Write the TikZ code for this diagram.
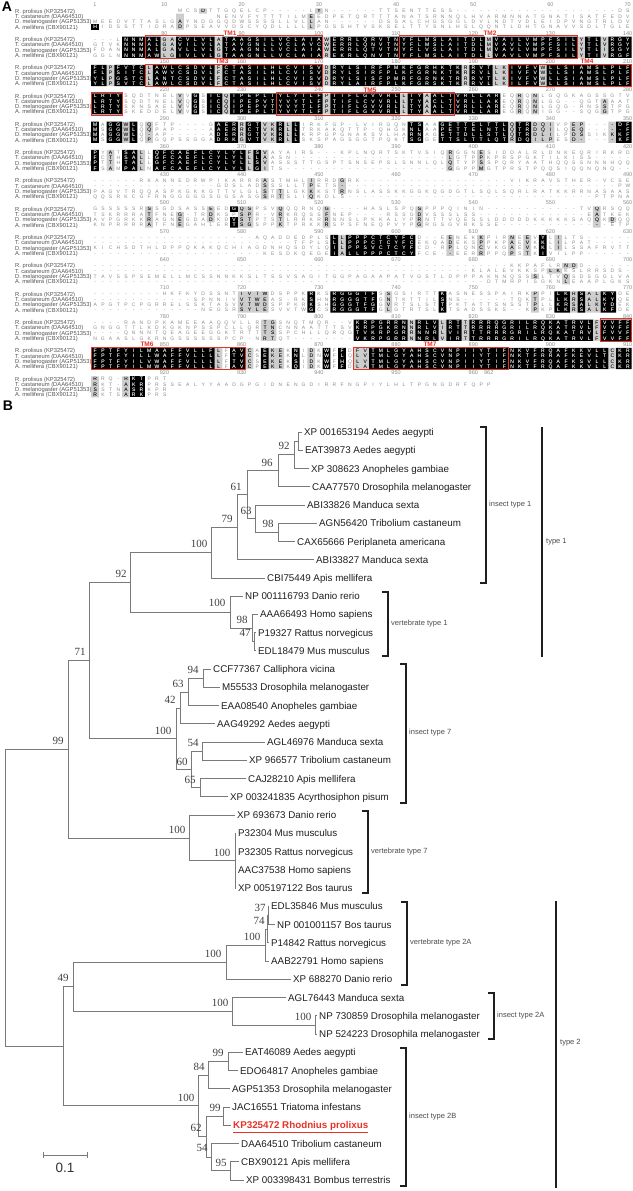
\documentclass[tikz,border=0pt]{standalone}
\usepackage{fontspec}
\setmainfont{Liberation Sans}
\newfontfamily\bsfont{Liberation Serif}
\usetikzlibrary{calc}

\definecolor{tmred}{HTML}{E53328}
\definecolor{seqgray}{HTML}{8C8C8C}
\definecolor{cellgray}{HTML}{CDCDCD}
\definecolor{treegray}{HTML}{7A7A7A}
\definecolor{labgray}{HTML}{555555}

\def\seqchars#1{\ifx#1\relax\else\seqcell{#1}\expandafter\seqchars\fi}
\def\seqcell#1{\makebox[7.72pt][c]{\if.#1\else#1\fi}}

\tikzset{
  seqtxt/.style={anchor=west, inner sep=0pt, font=\fontsize{5}{5}\selectfont, text height=3.6pt, text depth=0pt},
  rulenum/.style={inner sep=0pt, font=\fontsize{5.5}{6}\selectfont, text=seqgray},
  rowlab/.style={anchor=west, inner sep=0pt, font=\fontsize{5.8}{6}\selectfont, text=labgray, text height=4.2pt, text depth=0pt},
  tmbox/.style={draw=tmred, line width=0.9pt},
  tmlab/.style={text=tmred, font=\fontsize{6.5}{7}\selectfont\bfseries, inner sep=0pt},
  panel/.style={inner sep=0pt, font=\fontsize{14}{14}\selectfont\bfseries},
  treeline/.style={draw=treegray, line width=0.9pt},
  leaf/.style={anchor=west, inner xsep=2.5pt, inner ysep=0pt, font=\fontsize{9.8}{10}\selectfont, text=black!88, text height=7pt, text depth=0pt},
  bs/.style={inner sep=0pt, font=\bsfont\fontsize{11}{11}\selectfont, text=black!75, text height=7.4pt, text depth=0pt},
  brk/.style={line width=1.5pt, draw=black!88},
  brklab/.style={anchor=west, inner sep=0pt, font=\fontsize{7.5}{8}\selectfont, text=black!70},
}

\newcommand\rowlabels[1]{%
  \node[rowlab] at (15,#1+6) {R. prolixus (KP325472)};
  \node[rowlab] at (15,#1+11.3) {T. castaneum (DAA64510)};
  \node[rowlab] at (15,#1+16.6) {D. melanogaster (AGP51353)};
  \node[rowlab] at (15,#1+21.9) {A. mellifera (CBX90121)};
}
\newcommand\seqrows[5]{%
  \node[seqtxt,text=#1] at (91.14,\blkr+6) {\seqchars #2\relax};
  \node[seqtxt,text=#1] at (91.14,\blkr+11.3) {\seqchars #3\relax};
  \node[seqtxt,text=#1] at (91.14,\blkr+16.6) {\seqchars #4\relax};
  \node[seqtxt,text=#1] at (91.14,\blkr+21.9) {\seqchars #5\relax};
}
\newcommand\blk[8]{%
  \pgfmathsetmacro\blkr{5+(#1-1)*28.3}
  \rowlabels{\blkr}
  \foreach \nn in {#8}{\node[rulenum] at ({95+(\nn-(#1-1)*70-1)*7.72},\blkr) {\nn};}
  \fill[cellgray] \foreach \ca/\cb/\ra/\rb in {#7}{({91.14+(\ca-1)*7.72},{\blkr+3.35+(\ra-1)*5.3}) rectangle ({91.14+\cb*7.72},{\blkr+8.65+(\rb-1)*5.3})};
  \fill[black] \foreach \ca/\cb/\ra/\rb in {#6}{({91.14+(\ca-1)*7.72},{\blkr+3.35+(\ra-1)*5.3}) rectangle ({91.14+\cb*7.72},{\blkr+8.65+(\rb-1)*5.3})};
  \seqrows{seqgray}{#2}{#3}{#4}{#5}
  \begin{scope}
    \clip \foreach \ca/\cb/\ra/\rb in {#7}{({91.14+(\ca-1)*7.72},{\blkr+3.35+(\ra-1)*5.3}) rectangle ({91.14+\cb*7.72},{\blkr+8.65+(\rb-1)*5.3})};
    \seqrows{black}{#2}{#3}{#4}{#5}
  \end{scope}
  \begin{scope}
    \clip \foreach \ca/\cb/\ra/\rb in {#6}{({91.14+(\ca-1)*7.72},{\blkr+3.35+(\ra-1)*5.3}) rectangle ({91.14+\cb*7.72},{\blkr+8.65+(\rb-1)*5.3})};
    \seqrows{white}{#2}{#3}{#4}{#5}
  \end{scope}
}

\begin{document}
\begin{tikzpicture}[x=1pt,y=-1pt]
\useasboundingbox (0,0) rectangle (632,1191);
\fill[white] (0,0) rectangle (632,1191);

% ================= Panel A =================
\node[panel] (pA) at (7,7) {A};

\blk{1}{.......... .MCSDTTGQE LCP-----LY N------TTS ENTTESS--- ---------- --------DS}
{.......... ......NENV FYTTTILMEE DPETQRTTTA NATSRNNQLH VARMNNATGN ATISATFEDV}
{MEEDVTTASL GAYNDGGQDW SSSSLLVLLA N------DSS ALCHGSGGLD VLNDTVDLEI DPVNGTRLDV}
{HIDSSTTIDR ADPSEAVVDS CYQDLLLLLP GSSHTVSKSE LTTYSNLHSL QQNTLDHTGN AVVSDLTGLE}
{1/1/4/4}{15/15/1/1,12/12/2/4,29/29/2/4,30/30/1/1}{1,10,20,30,40,50,60,70}

\blk{2}{---LNNMALG ACVLVLATAA GSILVCLAIA WERRLQRVTN YFLMSLAITD LMVAILVMPF SILYTLVRGY}
{GTVKNNMALG AVILVLATAV GNLLVCLAVC WERRLQNVTN YFLMSLAITD LMVAVLVMPF SILYTLVRGY}
{FDANNNMALG AVLLVLGTAA GNLLVCLAIA WERRLQTVTN YFLVSLAITD LMVAVLVMPF SILYTLISGY}
{GGLNNNMAWL GIVLVLGTAA GNLLVCLAIA REKRLQNVTN YFLMSLAITD LLVAVLVMPF SILYTIVRGF}
{5/9/1/4,12/16/1/4,18/30/1/4,32/51/1/4,53/63/1/4,65/66/1/4,68/70/1/4}
{10/11/1/4,17/17/1/4,31/31/1/4,52/52/1/4,64/64/1/4,67/67/1/4}{80,90,100,110,120,130,140}

\blk{3}{FLPFVTCLAW LCSDVLFCTA SILHLCVISV DRYLSIRFPM KFGRHKTKRR VTLKIVFVWL LSIAMSLPLF}
{FLPSITCLAW VCSDVLFCTA SILHLCVISV DRYLSIRFPL KFGRNKTKRR VLLKIVFVWL LSIAMSLPLF}
{YLPGSTCLAN TCSDVLFCTA SILHLCVISV DRYLSISFPM RFGRNKTRRR VTLKIVFVWL LSIAMSLPLF}
{YLPSVTCLAW LCSDVLFCTA SILHLCVISV DRYLAIRFPL KFGRSKTKRR VLLKILFVWL LSIAMSLPLF}
{1/2/1/4,4/7/1/4,9/16/1/4,18/30/1/4,32/48/1/4,50/52/1/4,55/58/1/4,60/70/1/4}
{3/3/1/4,8/8/1/4,17/17/1/4,31/31/1/4,49/49/1/4,53/54/1/4,59/59/1/4}{150,160,170,180,190,200,210}

\blk{4}{LRTYSQDTNE LVVGSICQIP EPLTYLYTLF PTIFLGVVRL LTYAALTVRL LAREQRQNLG QGKAGSSGTV}
{LRTYSQDTNE LVQGSICQIP EPVTYVYTLF PTIFLCVVRL LTYACLTVRL LAKEQRQNLG G--QGTAAAT}
{LRTYSKNSAE LVVGSICQIP EPVTYVYTLF PTIFLGVVRL LTYAALTVRL LAREQRQNLG QG-RNSSTPG}
{LRTYSKEDDE LVVGSICQIP EPLTYVYTLF PTIFLGVVRL LTYAALTVRL LAREGRQNIG G--SQGGTPG}
{1/4/1/4,14/14/1/4,16/17/1/4,19/30/1/4,32/40/1/4,42/43/1/4,45/53/1/4}
{12/12/1/4,18/18/1/4,31/31/1/4,41/41/1/4,44/44/1/4,56/56/1/4,58/58/1/4,67/67/2/4}{220,230,240,250,260,270,280}

\blk{5}{MAGGWLQQFT P----GAERR GTVKRLLIRK FGP-LVIRGQ NTSAAGETTE LTTLQTRDQI VPEP----DF}
{MSGGWLQQPA P----AAERR CTVKRLLTRK AKQTTP-QHG KNLAAPETTE LNTLQTRDQI LQEQ-----F}
{MAGGWLQ-AP -----ADERR GTVKRLLKRP GPGNAKSVLH ARNAGETTDL LSTLQTRDLI LPDSSIKKKF}
{MSGGWLQPGQ PSSGGADRKG VTVKRLLSKS PAGSGGTPQK TSGGETTSLT TLQTRDQILP ESD-----KF}
{1/1/1/4,3/4/1/4,6/6/1/4,17/19/1/4,21/22/1/4,25/25/1/4,27/27/1/4,42/43/1/4,46/54/1/4,56/57/1/4,69/70/1/4}
{5/5/1/4,8/8/1/4,20/20/1/4,23/24/1/4,26/26/1/4,55/55/1/4,58/60/1/4,63/64/1/4,68/68/1/4}{290,300,310,320,330,340,350}

\blk{6}{PYATSALLQF CAEFLCYLYL FSVAYAIRS- --KPLNQRTS KTVSIQRGGN ESIDDALRLD NKEQRIRKRD}
{FCTHSALLGF CAEFLCYLYL LLAASN---- ---------- ------LGTP PKPRSPGKTI LKISS-----}
{PTTHTALLGF CAEFLCYLYL LSVASSSTTG SPTSNSEPSL SNNLQLQTYP SSPQRYAATH QQSSNNNHQQ}
{FSAMPALNAF CAEFLCYLYL LGITS----- ---------- ------GGPP MGTPRSTPQQ SIQQNQNQ--}
{1/1/1/4,5/6/1/4,9/20/1/4,22/22/1/4}
{3/3/1/4,7/7/1/4,21/21/1/4,23/23/1/4,47/47/1/4,51/51/1/4}{360,370,380,390,400,410,420}

\blk{7}{------RKAN NEDRWPIKAR RRASTMHLIR RDGRK----- ---------- ----VIKRAV STHER-VCSE}
{---------- ------GDSL ADSSSLLTPE TS-------- ---------- ---------- --------PW}
{PAGVTRQQAS PKGKKGTTVL GLSTTLGKKK STRNSLASSK KGGKQGDGTL SQLSQRLRAT KKRRNASAAS}
{QQSRKCGFRN GGGGGSGGSA SGSRTSLIQK DLS------- ---------- ---------- -----PTPNA}
{-60/-60/1/1}
{23/23/1/4,25/25/3/4,29/29/1/4,33/33/1/3}{430,440,450,460,470,480,490}

\blk{8}{GSSSSSRSSG DSASSEEDGQ SPSVQQQRNQ G----HASLS PQSPPPQINI N--------- ---TVQRSQQ}
{TSKRRRATFN EG-TRDKSPS PR-VRKRQSS FNEP----RS SGDVSSSLSS ---------- ----EATKEK}
{AVPGRKKRAG NEGDADKDVS TPTSTLRRKR RNNSLPKKAL YPRNTTVQES SLDDDDDKKK KKSAQQKDQQ}
{KNPRRRRATF NEGAHLERTS GSPPKTPRKK RSPSFNEQPV YPGRGSGVRK SSE------- -------ETP}
{19/19/1/1,19/19/3/4}
{8/8/1/4,12/12/2/4,16/16/1/3,20/21/1/4,25/25/1/4,31/31/1/4,43/43/1/4,66/66/1/4,68/68/3/3}{500,510,520,530,540,550,560}

\blk{9}{---------- ---------- -AQADDEDPL SLLPPPCTCY FCD--EENEK KPIRNEEVYL ILTS------}
{---------- ---------- ------TFPL SLLPPPCTCY FCEKQADEKS PPKPAEVKKL ILPAT-----}
{KICHSDTHLD PPQKAKQCHI AGDNHQSDYL QILPPSVCTC YFCD-RPLQN CVKGAEVKKL ILSSAFRVTT}
{---------- ---------- --KESDKQEG EIALLPPPCT CYFCE--EER RPPQPSTKIV ILPP------}
{32/32/1/4,34/42/1/4,59/59/1/4}
{33/33/1/4,47/47/1/4,51/51/1/4,55/55/1/4,57/57/1/4,61/61/1/3}{570,580,590,600,610,620,630}

\blk{10}{---------- ---------- ---------- ---------- ---------- ----KKPAFL RNDD------}
{---------- ---------- ---------- ---------- ---------K LALEVKKSPL KKSLRRSDS-}
{TAVSSPSEME LLMCSSNNKK SLTSSVSAGI TGGPAGAAPA TVGSTLDPPP AKNNQSSSLT VQSDSGGLVA}
{---------- ---------- ---------- ---------- ---------- -DTMRPISGK NLEAAPLGKS}
{-60/-60/1/1}
{62/63/1/1,60/61/2/2,62/62/3/4,58/58/3/3}{640,650,660,670,680,690,700}

\blk{11}{---------H KFKYDSSNTI VTWDSPPKRK SRGGGTFSSG SIRTTKASNE SSPAIRKPPI LKRSALKYDE}
{---------- ---SPNNIVV TWEAS-RKSH NRGGGTFGNT KTTILSNS-- ----TQKTPL LKRSALKYQE}
{APGTPCPGRR ELSSKTASVV TWDSPPKRKS HGGGTFGGVR TSLSTTPKTA TTSNSSTPLL KRSALKYDEK}
{---------- ----NEGSRS YLESVVTWGC SRGGGTFGLG TRTSLKTSAD SSKS--KPKP LKRSALKFDE}
{29/29/1/4,32/37/1/4,46/46/1/4,61/62/1/4,64/64/1/4,67/68/1/4}
{20/23/1/4,39/39/1/4,58/58/1/4,63/63/1/4,65/66/1/4}{710,720,730,740,750,760,770}

\blk{12}{----RANDPK AMEEAAQQVL LRTGSNQTMQ R--VKRPGRR NNRLVLRTTR RRQGRILRQK ATRVLFVVFF}
{GNGGTTLKDK GKNPSSPCLL QRTNCNNAAT TTSVKRPGKR NNRLVIRTTR RRRGRILRQK ATRVLFVVFF}
{----QNNNTQ EAGEEGGKTR TTTSSPCHLL QRQGTVKRPG RRNNRLVIRT TRRRGRILRQ KATRVLFVVF}
{NGAASLGKRN GSSSSSSPCP -NRTQT---- ----VKRPGR RNNRLVIRTT RRRGRILRQK ATRVLFVVFF}
{35/41/1/4,43/45/1/4,47/48/1/4,50/65/1/4,67/70/1/4}
{23/24/1/4,42/42/1/4,46/46/1/4,49/49/1/4,66/66/1/4}{780,790,800,810,820,830,840}

\blk{13}{FPTFYILMAA FFVLLFLFAV CAEKEKNIDK WFFDFVTMLG YAHSCVNPII YTIFNKVFRQ AFKKVLLCKR}
{FPTFYILLWA FFVLLLLFTV CSEKEKNLDN WFLQLVTMLG YAHSCVNPII YTIFNKTFRR AFKEVLTCKR}
{FPTFYILVWA FFVLLLLFTV CSEKEKSIDK WFHQLVTMLG YAHSCVNPII YTIFNKVFRQ AFKSVLLCKR}
{FPTFYILMWA FFVLLLLFAV CPEKEKQIDK WFFDLATMLG YAHSCVNPII YTIFNKTFRQ AFKKVLLCKR}
{1/16/1/4,19/20/1/4,23/23/1/4,27/27/1/4,31/31/1/4,33/33/1/4,37/67/1/4,69/70/1/4}
{17/17/1/4,21/21/1/4,24/25/1/4,29/29/1/4,35/36/1/4,68/68/1/4}{850,860,870,880,890,900,910}

\blk{14}{RRQ-RKTPRT}
{RKT-AKRPRS SEALYYAADG PGIDNENGDI RRFNGPIYLH LTPGNGDRFQ PP}
{SSTNASRKPR}
{RKTSARKPRS}
{6/7/1/4}
{1/1/1/4,5/5/1/4}{920,930,940,950,960,962}

% transmembrane boxes
\draw[tmbox] (145.18,35.9) rectangle (322.74,58.6);
\draw[tmbox] (399.94,35.9) rectangle (577.5,58.6);
\draw[tmbox] (145.18,64.2) rectangle (322.74,86.9);
\draw[tmbox] (508.02,64.2) rectangle (631.2,86.9);
\draw[tmbox] (91.14,92.5) rectangle (122.02,115.2);
\draw[tmbox] (276.42,92.5) rectangle (453.98,115.2);
\draw[tmbox] (600.66,318.9) rectangle (631.2,341.6);
\draw[tmbox] (91.14,347.2) rectangle (245.54,369.9);
\draw[tmbox] (353.62,347.2) rectangle (508.02,369.9);
\node[tmlab,fill=white] (tm1) at (230,33.3) {TM1};
\node[tmlab,fill=white] (tm2) at (490,33.3) {TM2};
\node[tmlab,fill=white] (tm3) at (222,61.6) {TM3};
\node[tmlab,fill=white] (tm4) at (587,61.6) {TM4};
\node[tmlab,fill=white] (tm5) at (370,89.9) {TM5};
\node[tmlab,fill=white] (tm6) at (147,344.6) {TM6};
\node[tmlab,fill=white] (tm7) at (430,344.6) {TM7};

% ================= Panel B =================
\node[panel] (pB) at (8,406) {B};

% internal nodes of the tree
\foreach \nm/\xx/\yy in {K/298/441.1, J/294/454.8, G/278/470.8, L/278/532.4, H/255/518.7,
  F/247/494.8, E/237/527.2, D/211/552.6, N/254/641.8, M/252/628.1, V1/230/612.2,
  C/130/582.4, S/203/678.3, Q/188/692, O/180/708, T/202/751.3, U/200/787.8,
  P/191/769.5, I7/176/738.8, B/89/660.6, W/235/860.8, V7/189/838, A/68/749.3,
  AC/268/915.5, AB/267/929.2, AA/265/945.1, V2A/226/962.2, AD/315/1025,
  I2A/232/1011.3, Y/73/986.7, AG/228/1061.4, AE/208/1075.1, AH/223/1116.2,
  AJ/230/1170.9, AI/211/1157.2, AF/206/1136.7, Z/198/1105.9, X49/63/1046.3, R/5/897.8}
  \coordinate (\nm) at (\xx,\yy);

% leaves
\node[leaf] (n0) at (301.5,432.0) {XP 001653194 Aedes aegypti};
\node[leaf] (n1) at (302.5,450.2) {EAT39873 Aedes aegypti};
\node[leaf] (n2) at (308.5,468.5) {XP 308623 Anopheles gambiae};
\node[leaf] (n3) at (309.5,486.7) {CAA77570 Drosophila melanogaster};
\node[leaf] (n4) at (304.5,505.0) {ABI33826 Manduca sexta};
\node[leaf] (n5) at (316.5,523.2) {AGN56420 Tribolium castaneum};
\node[leaf] (n6) at (294.5,541.5) {CAX65666 Periplaneta americana};
\node[leaf] (n7) at (313.5,559.7) {ABI33827 Manduca sexta};
\node[leaf] (n8) at (264.5,578.0) {CBI75449 Apis mellifera};
\node[leaf] (n9) at (242.5,596.2) {NP 001116793 Danio rerio};
\node[leaf] (n10) at (257.5,614.4) {AAA66493 Homo sapiens};
\node[leaf] (n11) at (255.5,632.7) {P19327 Rattus norvegicus};
\node[leaf] (n12) at (255.5,650.9) {EDL18479 Mus musculus};
\node[leaf] (n13) at (210.5,669.2) {CCF77367 Calliphora vicina};
\node[leaf] (n14) at (219.5,687.4) {M55533 Drosophila melanogaster};
\node[leaf] (n15) at (218.5,705.7) {EAA08540 Anopheles gambiae};
\node[leaf] (n16) at (214.5,723.9) {AAG49292 Aedes aegypti};
\node[leaf] (n17) at (264.5,742.1) {AGL46976 Manduca sexta};
\node[leaf] (n18) at (246.5,760.4) {XP 966577 Tribolium castaneum};
\node[leaf] (n19) at (245.5,778.6) {CAJ28210 Apis mellifera};
\node[leaf] (n20) at (227.5,796.9) {XP 003241835 Acyrthosiphon pisum};
\node[leaf] (n21) at (234.5,815.1) {XP 693673 Danio rerio};
\node[leaf] (n22) at (235.5,833.4) {P32304 Mus musculus};
\node[leaf] (n23) at (235.5,851.6) {P32305 Rattus norvegicus};
\node[leaf] (n24) at (235.5,869.9) {AAC37538 Homo sapiens};
\node[leaf] (n25) at (235.5,888.1) {XP 005197122 Bos taurus};
\node[leaf] (n26) at (268.5,906.3) {EDL35846 Mus musculus};
\node[leaf] (n27) at (274.5,924.6) {NP 001001157 Bos taurus};
\node[leaf] (n28) at (268.5,942.8) {P14842 Rattus norvegicus};
\node[leaf] (n29) at (268.5,961.1) {AAB22791 Homo sapiens};
\node[leaf] (n30) at (290.5,979.3) {XP 688270 Danio rerio};
\node[leaf] (n31) at (285.5,997.6) {AGL76443 Manduca sexta};
\node[leaf] (n32) at (316.5,1015.8) {NP 730859 Drosophila melanogaster};
\node[leaf] (n33) at (316.5,1034.1) {NP 524223 Drosophila melanogaster};
\node[leaf] (n34) at (242.5,1052.3) {EAT46089 Aedes aegypti};
\node[leaf] (n35) at (237.5,1070.5) {EDO64817 Anopheles gambiae};
\node[leaf] (n36) at (229.5,1088.8) {AGP51353 Drosophila melanogaster};
\node[leaf] (n37) at (229.5,1107.0) {JAC16551 Triatoma infestans};
\node[leaf,text=tmred,font=\bfseries\fontsize{9.8}{10}\selectfont] (n38) at (230.5,1125.3) {\underline{KP325472 Rhodnius prolixus}};
\node[leaf] (n39) at (238.5,1143.5) {DAA64510 Tribolium castaneum};
\node[leaf] (n40) at (238.5,1161.8) {CBX90121 Apis mellifera};
\node[leaf] (n41) at (243.5,1180.0) {XP 003398431 Bombus terrestris};

% branches
\foreach \pa/\ch in {R/A, R/X49, A/B, A/V7, B/C, B/I7, C/D, C/V1, D/E, D/n8.west,
  E/F, E/n7.west, F/G, F/H, G/J, G/n3.west, J/K, J/n2.west, K/n0.west, K/n1.west,
  H/n4.west, H/L, L/n5.west, L/n6.west, V1/n9.west, V1/M, M/n10.west, M/N,
  N/n11.west, N/n12.west, I7/O, I7/P, O/Q, O/n16.west, Q/S, Q/n15.west,
  S/n13.west, S/n14.west, P/T, P/U, T/n17.west, T/n18.west, U/n19.west, U/n20.west,
  V7/n21.west, V7/W, W/n22.west, W/n23.west, W/n24.west, W/n25.west,
  X49/Y, X49/Z, Y/V2A, Y/I2A, V2A/AA, V2A/n30.west, AA/AB, AA/n29.west,
  AB/AC, AB/n28.west, AC/n26.west, AC/n27.west, I2A/n31.west, I2A/AD,
  AD/n32.west, AD/n33.west, Z/AE, Z/AF, AE/AG, AE/n36.west, AG/n34.west, AG/n35.west,
  AF/AH, AF/AI, AH/n37.west, AH/n38.west, AI/n39.west, AI/AJ, AJ/n40.west, AJ/n41.west}
  \draw[treeline] (\pa) |- (\ch);

% bootstrap values
\foreach \xx/\yy/\vv [count=\i] in {284/446/92, 267/463/96, 236/487/61, 246/511/63,
  268/524/98, 227/519/79, 199/544/100, 121/574/92, 217/603/100, 242/620/98,
  245/633/47, 80/652/71, 58/741/99, 163/731/100, 170/700/42, 178/684/63,
  193/670/94, 182/762/60, 193/743/54, 190/780/65, 177/830/100, 222/853/100,
  63/978/49, 213/954/100, 252/937/100, 259/921/74, 260/908/37, 220/1003/100,
  303/1017/100, 186/1098/100, 199/1067/84, 218/1053/99, 196/1128/62,
  215/1108/99, 202/1148/54, 221/1163/95}
  \node[bs] (bs\i) at (\xx,\yy) {\vv};

% scale bar
\coordinate (sb1) at (43,1155);
\coordinate (sb2) at (87,1155);
\draw[treeline] (sb1) -- (sb2);
\draw[treeline] ($(sb1)+(0,-3)$) -- ($(sb1)+(0,3)$);
\draw[treeline] ($(sb2)+(0,-3)$) -- ($(sb2)+(0,3)$);
\node[inner sep=0pt, font=\fontsize{13.5}{14}\selectfont, text=black!80] (sbl) at (65,1168) {0.1};

% group brackets
\foreach \nm/\xx/\ya/\yb/\ly/\txt in {
  gi1/486/427/583/505/insect type 1,
  gv1/388/592/656/624/vertebrate type 1,
  gi7/406/664/803/733/insect type 7,
  gv7/368/811/893/852/vertebrate type 7,
  gv2a/407/902/985/943/vertebrate type 2A,
  gi2a/494/993/1039/1016/insect type 2A,
  gi2b/406/1048/1186/1117/insect type 2B}{
  \coordinate (\nm t) at (\xx,\ya);
  \coordinate (\nm b) at (\xx,\yb);
  \draw[brk] ($(\nm t)+(-6,0)$) -- (\nm t) -- (\nm b) -- ($(\nm b)+(-6,0)$);
  \node[brklab] (\nm l) at (\xx+3,\ly) {\txt};
}
\coordinate (t1t) at (542,427);
\coordinate (t1b) at (542,657);
\draw[brk] (t1t) -- (t1b);
\node[brklab] (t1l) at (546,542) {type 1};
\coordinate (t2t) at (556,901);
\coordinate (t2b) at (556,1188);
\draw[brk] (t2t) -- (t2b);
\node[brklab] (t2l) at (560,1043) {type 2};

\end{tikzpicture}
\end{document}
